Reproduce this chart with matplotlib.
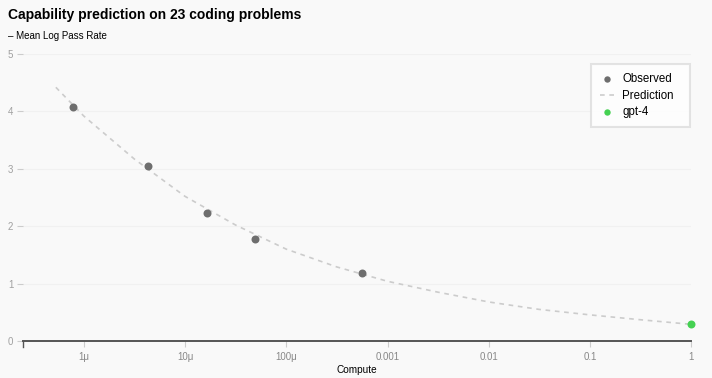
import matplotlib
matplotlib.use("Agg")
import matplotlib.pyplot as plt

plt.rcParams['font.family'] = ['Liberation Sans', 'DejaVu Sans']

# observed points (compute, mean log pass rate)
obs_compute = [7.8e-7, 4.3e-6, 1.66e-5, 4.9e-5, 5.6e-4]
obs_value = [4.07, 3.05, 2.23, 1.78, 1.18]

# prediction curve
pred_compute = [5.3e-7, 1e-6, 3.16e-6, 1e-5, 3.16e-5, 1e-4, 3.16e-4, 1e-3,
                3.16e-3, 1e-2, 3.16e-2, 0.1, 0.316, 1.0]
pred_value = [4.42, 3.92, 3.17, 2.52, 2.02, 1.60, 1.29, 1.04,
              0.85, 0.68, 0.55, 0.455, 0.37, 0.29]

gpt4_compute = [1.0]
gpt4_value = [0.30]

xticks = [1e-6, 1e-5, 1e-4, 1e-3, 1e-2, 1e-1, 1]
xtick_labels = ['1μ', '10μ', '100μ', '0.001', '0.01', '0.1', '1']
yticks = [0, 1, 2, 3, 4, 5]

bg = '#f9f9f9'
fig = plt.figure(figsize=(7.12, 3.78), dpi=100, facecolor=bg)
ax = fig.add_axes([23 / 712, 37 / 378, 668.3 / 712, 287 / 378], facecolor=bg)

ax.plot(pred_compute, pred_value, color='#cccccc', lw=1.2, ls=(0, (2.8, 2.8)),
        label='Prediction', zorder=2)
ax.scatter(obs_compute, obs_value, s=33, color='#6e6e6e', label='Observed',
           zorder=3, linewidths=0)
ax.scatter(gpt4_compute, gpt4_value, s=33, color='#45d152', label='gpt-4',
           zorder=3, linewidths=0, clip_on=False)

ax.set_xscale('log')
ax.set_xlim(10 ** -6.6, 1)
ax.set_ylim(0, 5)
ax.set_xticks(xticks)
ax.set_xticklabels(xtick_labels)
ax.minorticks_off()
ax.set_yticks(yticks)

for s in ['left', 'right', 'top']:
    ax.spines[s].set_visible(False)
ax.spines['bottom'].set_color('#555555')
ax.spines['bottom'].set_linewidth(1.4)
ax.grid(axis='y', color='#f1f1f1', lw=0.8)
ax.set_axisbelow(True)

ax.tick_params(axis='x', length=4, width=0.8, color='#cccccc',
               labelsize=7, labelcolor='#888888', pad=4)
ax.tick_params(axis='y', length=4.5, width=0.8, color='#cccccc',
               labelsize=7, labelcolor='#a0a0a0', pad=2.5)
# dark tick at the start of the axis
ax.plot([0, 0], [0, -0.022], transform=ax.transAxes, color='#555555',
        lw=1.0, clip_on=False)

ax.set_xlabel('Compute', fontsize=7.2, labelpad=2)

handles, labels = ax.get_legend_handles_labels()
order = [1, 0, 2]
leg = ax.legend([handles[i] for i in order], [labels[i] for i in order],
                loc='upper left', bbox_to_anchor=(0.8495, 0.5, 0.149, 0.465),
                mode='expand', borderaxespad=0, fontsize=8.3, frameon=True,
                fancybox=False, handlelength=1.2, handletextpad=0.75,
                labelspacing=0.38, borderpad=0.8, markerscale=0.8)
leg.get_frame().set_edgecolor('#dddddd')
leg.get_frame().set_linewidth(1.5)
leg.get_frame().set_facecolor('white')

fig.text(8 / 712, 1 - 19 / 378, 'Capability prediction on 23 coding problems',
         fontsize=10, fontweight='bold', ha='left', va='baseline')
fig.text(8 / 712, 1 - 39 / 378, '– Mean Log Pass Rate', fontsize=7,
         ha='left', va='baseline')

fig.savefig('out.png', dpi=100, facecolor=bg)
